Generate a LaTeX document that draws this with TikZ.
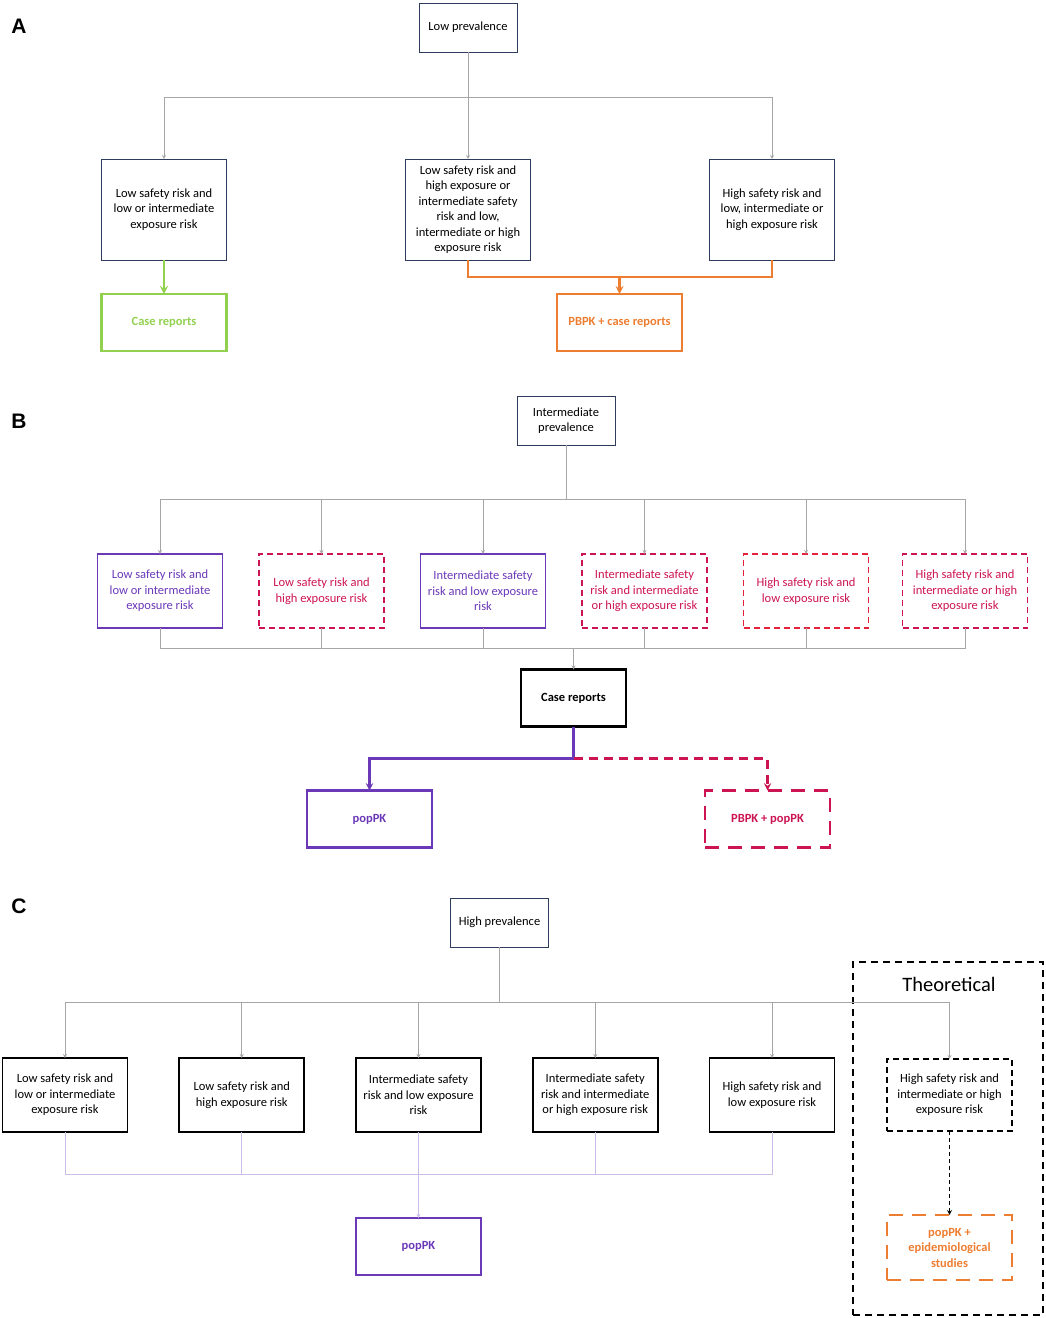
\documentclass[tikz,border=0pt]{standalone}
\usepackage{fontspec}
\setmainfont{Carlito}
\newfontfamily\panelfont{Liberation Sans}
\usetikzlibrary{positioning}

\definecolor{boxnavy}{HTML}{2F3B5C}
\definecolor{linegray}{HTML}{A6A6A6}
\definecolor{casegreen}{HTML}{92D050}
\definecolor{pkorange}{HTML}{ED7D31}
\definecolor{poppurple}{HTML}{6B38B8}
\definecolor{pbcrimson}{HTML}{CC1452}
\definecolor{pbred}{HTML}{E4203A}
\definecolor{lilac}{HTML}{CBBCE8}

\begin{document}
\begin{tikzpicture}[x=1pt, y=1pt, >=stealth,
        prev node/.style={rectangle, draw=boxnavy, line width=1pt, outer sep=0pt, minimum width=98pt,
        minimum height=49pt, align=center, font=\fontsize{12.5}{15.5}\selectfont},
        risk node/.style={rectangle, draw=boxnavy, line width=1pt, outer sep=0pt, inner sep=2pt,
        minimum width=125pt, minimum height=74pt, align=center, font=\fontsize{12.5}{15.5}\selectfont},
        pop node/.style={risk node, draw=poppurple, text=poppurple, line width=1.4pt},
        pb node/.style={risk node, draw=pbcrimson, text=pbcrimson, line width=1.6pt,
        dash pattern=on 6pt off 4pt},
        black node/.style={risk node, draw=black, line width=1.8pt},
        out node/.style={rectangle, line width=2.8pt, outer sep=0pt, minimum width=125pt, minimum height=57pt,
        align=center, font=\bfseries\fontsize{12.5}{15.5}\selectfont},
        link/.style={draw=linegray, line width=0.8pt},
        panel label/.style={font=\panelfont\bfseries\fontsize{21}{21}\selectfont}]
        \useasboundingbox (0,0) rectangle (1045,-1318);

        % A: low prevalence
        \node[panel label] (labA) at (19,-26) {A};
        \node[prev node] (lowprev) at (468,-27.5) {Low prevalence};
        \node[risk node, minimum height=101pt, below=107pt of lowprev] (lsa) {Low safety risk and\\ high exposure or\\ intermediate safety\\ risk and low,\\ intermediate or high\\ exposure risk};
        \node[risk node, minimum height=101pt, left=179pt of lsa] (lla) {Low safety risk and\\ low or intermediate\\ exposure risk};
        \node[risk node, minimum height=101pt, right=179pt of lsa] (hsa) {High safety risk and\\ low, intermediate or\\ high exposure risk};
        \node[out node, draw=casegreen, text=casegreen, below=34pt of lla] (caseA) {Case reports};
        \node[out node, draw=pkorange, text=pkorange, below=34pt of lsa, xshift=151.5pt] (pbpkA) {PBPK + case reports};

        \coordinate (busA) at ([yshift=-45pt]lowprev.south);
        \coordinate (joinA) at ([yshift=17pt]pbpkA.north);
        \draw[link, ->] (lowprev) -- (lsa);
        \draw[link, ->] (busA) -| (lla.north);
        \draw[link, ->] (busA) -| (hsa.north);
        \draw[casegreen, line width=2.5pt, ->] (lla) -- (caseA);
        \draw[pkorange, line width=2.5pt] (lsa.south) |- (joinA) -| (hsa.south);
        \draw[pkorange, line width=2.5pt, ->] (joinA) -- (pbpkA);

        % B: intermediate prevalence
        \node[panel label] (labB) at (19,-421) {B};
        \node[prev node] (intprev) at (566,-420.5) {Intermediate\\ prevalence};
        \node[pop node] (b1) at (160,-591) {Low safety risk and\\ low or intermediate\\ exposure risk};
        \node[pb node, right=36.5pt of b1] (b2) {Low safety risk and\\ high exposure risk};
        \node[pop node, right=36.5pt of b2] (b3) {Intermediate safety\\ risk and low exposure\\ risk};
        \node[pb node, right=36.5pt of b3] (b4) {Intermediate safety\\ risk and intermediate\\ or high exposure risk};
        \node[pb node, draw=pbred, right=36.5pt of b4] (b5) {High safety risk and\\ low exposure risk};
        \node[pb node, right=34pt of b5] (b6) {High safety risk and\\ intermediate or high\\ exposure risk};
        \node[out node, draw=black, minimum width=105pt] (caseB) at (573.5,-698) {Case reports};
        \node[out node, draw=poppurple, text=poppurple, below=64pt of caseB, xshift=-204pt] (popB) {popPK};
        \node[out node, draw=pbcrimson, text=pbcrimson, dash pattern=on 14pt off 9pt, below=64pt of caseB, xshift=194pt] (pbpkB) {PBPK + popPK};

        \coordinate (busB) at ([yshift=-54pt]intprev.south);
        \coordinate (lowB) at ([yshift=21pt]caseB.north);
        \coordinate (splitB) at ([yshift=-32pt]caseB.south);
        \draw[link] (intprev) -- (busB);
        \draw[link, ->] (busB) -| (b1.north);
        \draw[link, ->] (busB) -| (b2.north);
        \draw[link, ->] (busB) -| (b3.north);
        \draw[link, ->] (busB) -| (b4.north);
        \draw[link, ->] (busB) -| (b5.north);
        \draw[link, ->] (busB) -| (b6.north);
        \draw[link] (b1.south) |- (lowB);
        \draw[link] (b2.south) |- (lowB);
        \draw[link] (b3.south) |- (lowB);
        \draw[link] (b4.south) |- (lowB);
        \draw[link] (b5.south) |- (lowB);
        \draw[link] (b6.south) |- (lowB);
        \draw[link, ->] (lowB) -- (caseB);
        \draw[poppurple, line width=2.2pt] (caseB) -- (splitB);
        \draw[poppurple, line width=2.2pt, ->] (splitB) -| (popB);
        \draw[pbcrimson, line width=2.2pt, dash pattern=on 9pt off 6pt, ->] (splitB) -| (pbpkB);

        % C: high prevalence
        \node[panel label] (labC) at (19,-906) {C};
        \node[prev node] (highprev) at (499.5,-922.5) {High prevalence};
        \node[draw=black, line width=1.6pt, dash pattern=on 7pt off 5pt, minimum width=190pt, minimum height=353pt] (theo) at (948,-1138.5) {};
        \node[font=\fontsize{20.5}{24}\selectfont] (theotitle) at (949,-984) {Theoretical};
        \node[black node] (c1) at (65,-1095) {Low safety risk and\\ low or intermediate\\ exposure risk};
        \node[black node, right=51.75pt of c1] (c2) {Low safety risk and\\ high exposure risk};
        \node[black node, right=51.75pt of c2] (c3) {Intermediate safety\\ risk and low exposure\\ risk};
        \node[black node, right=51.75pt of c3] (c4) {Intermediate safety\\ risk and intermediate\\ or high exposure risk};
        \node[black node, right=51.75pt of c4] (c5) {High safety risk and\\ low exposure risk};
        \node[black node, dash pattern=on 6pt off 4pt, minimum height=72pt, right=52.5pt of c5] (c6) {High safety risk and\\ intermediate or high\\ exposure risk};
        \node[out node, draw=poppurple, text=poppurple, below=86pt of c3] (popC) {popPK};
        \node[out node, draw=pkorange, text=pkorange, dash pattern=on 14pt off 9pt, minimum height=65pt, below=84pt of c6] (epiC) {popPK +\\ epidemiological\\ studies};

        \coordinate (busC) at ([yshift=-55pt]highprev.south);
        \coordinate (lowC) at ([yshift=44pt]popC.north);
        \draw[link] (highprev) -- (busC);
        \draw[link, ->] (busC) -| (c1.north);
        \draw[link, ->] (busC) -| (c2.north);
        \draw[link, ->] (busC) -| (c3.north);
        \draw[link, ->] (busC) -| (c4.north);
        \draw[link, ->] (busC) -| (c5.north);
        \draw[link, ->] (busC) -| (c6.north);
        \draw[lilac, line width=0.8pt] (c1.south) |- (lowC);
        \draw[lilac, line width=0.8pt] (c2.south) |- (lowC);
        \draw[lilac, line width=0.8pt] (c4.south) |- (lowC);
        \draw[lilac, line width=0.8pt] (c5.south) |- (lowC);
        \draw[lilac, line width=0.8pt, ->] (c3) -- (popC);
        \draw[black, line width=1.2pt, dash pattern=on 4pt off 3pt, ->] (c6) -- (epiC);
    \end{tikzpicture}
\end{document}
